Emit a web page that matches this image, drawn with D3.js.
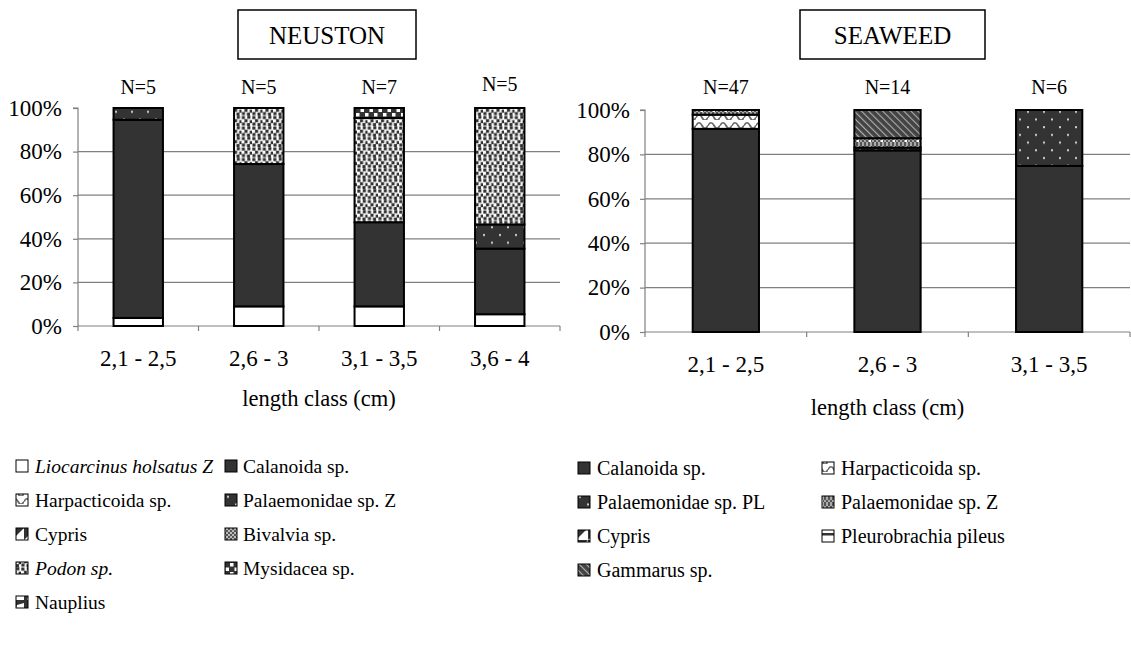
<!DOCTYPE html>
<html>
<head>
<meta charset="utf-8">
<script src="https://cdn.jsdelivr.net/npm/d3@7"></script>
<style>
  html, body { margin: 0; padding: 0; background: #fff; }
  svg, svg text { font-family: 'Liberation Serif', 'Times New Roman', Tinos, serif; }
</style>
</head>
<body>
<svg id="chart" width="1131" height="653"></svg>
<script>
// ---------------- DATA ----------------
const neustonTitle = "NEUSTON";
const neustonCategories = ["2,1 - 2,5", "2,6 - 3", "3,1 - 3,5", "3,6 - 4"];
const neustonN = ["N=5", "N=5", "N=7", "N=5"];
const neustonSeriesNames = ["Liocarcinus holsatus Z", "Calanoida sp.", "Harpacticoida sp.", "Palaemonidae sp. Z",
  "Cypris", "Bivalvia sp.", "Podon sp.", "Mysidacea sp.", "Nauplius"];
const neustonLiocarcinus = [3.7, 9.0, 9.0, 5.4];
const neustonCalanoida   = [90.9, 65.3, 38.6, 30.1];
const neustonHarpacticoida = [0, 0, 0, 0];
const neustonPalaemonidaeZ = [5.4, 0, 0, 11.1];
const neustonCypris      = [0, 0, 0, 0];
const neustonBivalvia    = [0, 0, 0, 0];
const neustonPodon       = [0, 25.7, 47.8, 53.4];
const neustonMysidacea   = [0, 0, 4.6, 0];
const neustonNauplius    = [0, 0, 0, 0];

const seaweedTitle = "SEAWEED";
const seaweedCategories = ["2,1 - 2,5", "2,6 - 3", "3,1 - 3,5"];
const seaweedN = ["N=47", "N=14", "N=6"];
const seaweedSeriesNames = ["Calanoida sp.", "Harpacticoida sp.", "Palaemonidae sp. PL", "Palaemonidae sp. Z",
  "Cypris", "Pleurobrachia pileus", "Gammarus sp."];
const seaweedCalanoida     = [91.5, 81.8, 74.8];
const seaweedHarpacticoida = [6.4, 0, 0];
const seaweedPalaemonidaePL = [0, 1.3, 25.2];
const seaweedPalaemonidaeZ = [2.1, 4.2, 0];
const seaweedCypris        = [0, 0, 0];
const seaweedPleurobrachia = [0, 0, 0];
const seaweedGammarus      = [0, 12.7, 0];

const yTicks = [0, 20, 40, 60, 80, 100];
const axisTitle = "length class (cm)";

// ---------------- PATTERNS ----------------
const FONT = "'Liberation Serif', 'Times New Roman', Tinos, serif";
const svg = d3.select("#chart");
const defs = svg.append("defs");
const DARK = "#333333";

function pattern(id, w, h, build, transform) {
  const p = defs.append("pattern").attr("id", id).attr("patternUnits", "userSpaceOnUse")
    .attr("width", w).attr("height", h);
  if (transform) p.attr("patternTransform", transform);
  build(p);
  return "url(#" + id + ")";
}
const fills = {};
fills.white = "#ffffff";
fills.dark = DARK;
fills.darkDots = pattern("pDarkDots", 16, 15.4, p => {
  p.append("rect").attr("width", 16).attr("height", 15.4).attr("fill", DARK);
  p.append("rect").attr("x", 3).attr("y", 3).attr("width", 2).attr("height", 2).attr("fill", "#cfcfcf");
  p.append("rect").attr("x", 11).attr("y", 10.7).attr("width", 2).attr("height", 2).attr("fill", "#cfcfcf");
});
fills.podon = pattern("pPodon", 10.5, 10.5, p => {
  p.append("rect").attr("width", 10.5).attr("height", 10.5).attr("fill", "#fff");
  [[0.3,0.5],[5.8,0.2],[3,3.7],[8.2,4.6],[0.4,7],[5.4,7.6]].forEach(([x,y]) =>
    p.append("rect").attr("x", x).attr("y", y).attr("width", 3.1).attr("height", 3.1).attr("fill", "#2e2e2e"));
});
fills.mysid = pattern("pMysid", 9, 9, p => {
  p.append("rect").attr("width", 9).attr("height", 9).attr("fill", DARK);
  p.append("rect").attr("x", 0.5).attr("y", 0.5).attr("width", 3.5).attr("height", 3.5).attr("fill", "#fff");
  p.append("rect").attr("x", 5).attr("y", 5).attr("width", 3.5).attr("height", 3.5).attr("fill", "#fff");
});
fills.harp = pattern("pHarp", 12, 8, p => {
  p.append("rect").attr("width", 12).attr("height", 8).attr("fill", "#fff");
  p.append("path").attr("d", "M0,5.5 Q3,0 6,5.5 T12,5.5").attr("fill", "none").attr("stroke", "#666").attr("stroke-width", 1.7);
});
fills.palZright = pattern("pPalZr", 12, 6, p => {
  for (let i = 0; i < 6; i++) for (let j = 0; j < 3; j++) {
    p.append("rect").attr("x", i * 2).attr("y", j * 2).attr("width", 2).attr("height", 2)
      .attr("fill", (i + j) % 2 ? "#aaaaaa" : "#555555");
  }
  p.append("rect").attr("x", 5).attr("y", 2).attr("width", 2).attr("height", 2).attr("fill", "#fff");
});
fills.bival = pattern("pBival", 4, 4, p => {
  p.append("rect").attr("width", 4).attr("height", 4).attr("fill", "#bbbbbb");
  p.append("rect").attr("width", 2).attr("height", 2).attr("fill", "#555");
  p.append("rect").attr("x", 2).attr("y", 2).attr("width", 2).attr("height", 2).attr("fill", "#555");
});
fills.gamm = pattern("pGamm", 5, 5, p => {
  p.append("rect").attr("width", 5).attr("height", 5).attr("fill", "#444");
  p.append("line").attr("x1", 0).attr("y1", 0).attr("x2", 0).attr("y2", 5).attr("stroke", "#b0b0b0").attr("stroke-width", 2.2);
}, "rotate(-45)");
fills.cypris = pattern("pCypris", 12, 12, p => {
  p.append("rect").attr("width", 12).attr("height", 12).attr("fill", "#fff");
  p.append("path").attr("d", "M0,0 L12,0 L0,12 Z").attr("fill", DARK);
});
fills.pleuro = pattern("pPleuro", 12, 12, p => {
  p.append("rect").attr("width", 12).attr("height", 12).attr("fill", "#fff");
  p.append("rect").attr("y", 5).attr("width", 12).attr("height", 2.5).attr("fill", DARK);
});
fills.naupl = pattern("pNaupl", 12, 12, p => {
  p.append("rect").attr("width", 12).attr("height", 12).attr("fill", DARK);
  p.append("path").attr("d", "M5,5 L12,3 L12,12 L3,12 Z").attr("fill", "#fff");
});

const neustonFills = [fills.white, fills.dark, fills.harp, fills.darkDots, fills.cypris, fills.bival, fills.podon, fills.mysid, fills.naupl];
const neustonItalic = [true, false, false, false, false, false, true, false, false];
const seaweedFills = [fills.dark, fills.harp, fills.darkDots, fills.palZright, fills.cypris, fills.pleuro, fills.gamm];

const neustonValues = [neustonLiocarcinus, neustonCalanoida, neustonHarpacticoida, neustonPalaemonidaeZ,
  neustonCypris, neustonBivalvia, neustonPodon, neustonMysidacea, neustonNauplius];
const seaweedValues = [seaweedCalanoida, seaweedHarpacticoida, seaweedPalaemonidaePL, seaweedPalaemonidaeZ,
  seaweedCypris, seaweedPleurobrachia, seaweedGammarus];

// ---------------- CHART FUNCTION ----------------
function drawChart(cfg) {
  const g = svg.append("g");
  const x = d3.scaleBand().domain(cfg.categories).range([cfg.x0, cfg.x1]).paddingInner(0.59).paddingOuter(0.295);
  const xb = d3.scaleBand().domain(cfg.categories).range([cfg.x0, cfg.x1]);
  const y = d3.scaleLinear().domain([0, 100]).range([cfg.yBottom, cfg.yTop]);

  g.selectAll("line.grid").data(yTicks.filter(t => t > 0 && t < 100)).join("line")
    .attr("x1", cfg.x0).attr("x2", cfg.x1).attr("y1", d => y(d)).attr("y2", d => y(d))
    .attr("stroke", "#808080").attr("stroke-width", 1.2);

  const yAxis = d3.axisLeft(y).tickValues(yTicks).tickFormat(d => d + "%").tickSize(5).tickPadding(cfg.yPad);
  const ya = g.append("g").attr("transform", `translate(${cfg.x0},0)`).call(yAxis).attr("font-family", FONT);
  ya.select(".domain").attr("stroke", "#808080").attr("stroke-width", 1.2).attr("d", `M-5,${cfg.yTop}H0V${cfg.yBottom}`);
  ya.selectAll(".tick line").attr("stroke", "#808080").attr("stroke-width", 1.2);
  ya.selectAll(".tick text").attr("font-size", 23).attr("fill", "#000").style("font-family", FONT);

  const xa = g.append("g").attr("transform", `translate(0,${cfg.yBottom})`)
    .call(d3.axisBottom(xb).tickSize(0).tickPadding(24)).attr("font-family", FONT);
  xa.select(".domain").attr("stroke", "#808080").attr("stroke-width", 1.2).attr("d", `M${cfg.x0},0H${cfg.x1}`);
  xa.selectAll(".tick text").attr("font-size", 23).attr("fill", "#000").style("font-family", FONT);
  const bounds = cfg.categories.map(c => xb(c)).concat([cfg.x1]);
  g.selectAll("line.xt").data(bounds).join("line")
    .attr("x1", d => d).attr("x2", d => d).attr("y1", cfg.yBottom).attr("y2", cfg.yBottom + 5)
    .attr("stroke", "#808080").attr("stroke-width", 1.2);

  const rows = cfg.categories.map((c, i) => {
    const o = { cat: c };
    cfg.series.forEach((s, k) => o["s" + k] = cfg.values[k][i]);
    return o;
  });
  const keys = cfg.series.map((s, k) => "s" + k);
  const stack = d3.stack().keys(keys)(rows);
  stack.forEach((layer, k) => {
    g.append("g").selectAll("rect").data(layer.filter(d => d[1] - d[0] > 0)).join("rect")
      .attr("x", d => x(d.data.cat)).attr("width", x.bandwidth())
      .attr("y", d => y(d[1])).attr("height", d => y(d[0]) - y(d[1]))
      .attr("fill", cfg.fills[k]).attr("stroke", "#000").attr("stroke-width", 2);
  });

  g.selectAll("text.n").data(cfg.categories).join("text")
    .attr("x", d => xb(d) + xb.bandwidth() / 2).attr("y", (d, i) => cfg.nY[i])
    .attr("text-anchor", "middle").attr("font-size", 20).style("font-family", FONT).text((d, i) => cfg.n[i]);

  g.append("text").attr("x", (cfg.x0 + cfg.x1) / 2).attr("y", cfg.titleY)
    .attr("text-anchor", "middle").attr("font-size", 22.5).style("font-family", FONT).text(axisTitle);

  g.append("rect").attr("x", cfg.box[0]).attr("y", 10).attr("width", cfg.box[1] - cfg.box[0]).attr("height", 49)
    .attr("fill", "#fff").attr("stroke", "#000").attr("stroke-width", 1.5);
  g.append("text").attr("x", (cfg.box[0] + cfg.box[1]) / 2).attr("y", 44).attr("text-anchor", "middle")
    .attr("font-size", 25).style("font-family", FONT).text(cfg.title);
}

drawChart({
  categories: neustonCategories, n: neustonN, nY: [94, 94, 94, 91], series: neustonSeriesNames,
  values: neustonValues, fills: neustonFills, x0: 78, x1: 560, yTop: 108, yBottom: 326, yPad: 11,
  titleY: 406, box: [238, 416], title: neustonTitle
});
drawChart({
  categories: seaweedCategories, n: seaweedN, nY: [94, 94, 94], series: seaweedSeriesNames,
  values: seaweedValues, fills: seaweedFills, x0: 645, x1: 1130, yTop: 110, yBottom: 332, yPad: 10,
  titleY: 415, box: [800, 985], title: seaweedTitle
});

// ---------------- LEGENDS ----------------
function legend(items, fillsArr, italic, cols, rowsY, fs) {
  const g = svg.append("g");
  items.forEach((name, i) => {
    const col = i % 2, row = Math.floor(i / 2);
    const cy = rowsY[row];
    g.append("rect").attr("x", cols[col][0]).attr("y", cy - 6).attr("width", 12).attr("height", 12)
      .attr("fill", fillsArr[i]).attr("stroke", "#000").attr("stroke-width", 1);
    g.append("text").attr("x", cols[col][1]).attr("y", cy + 7).attr("font-size", fs)
      .style("font-family", FONT)
      .attr("font-style", italic && italic[i] ? "italic" : null).text(name);
  });
}
legend(neustonSeriesNames, neustonFills, neustonItalic, [[16, 35], [225, 243]], [466, 500, 534, 568, 602], 19.5);
legend(seaweedSeriesNames, seaweedFills, null, [[578, 597], [822, 841]], [468, 502, 536, 570], 20);
</script>
</body>
</html>
